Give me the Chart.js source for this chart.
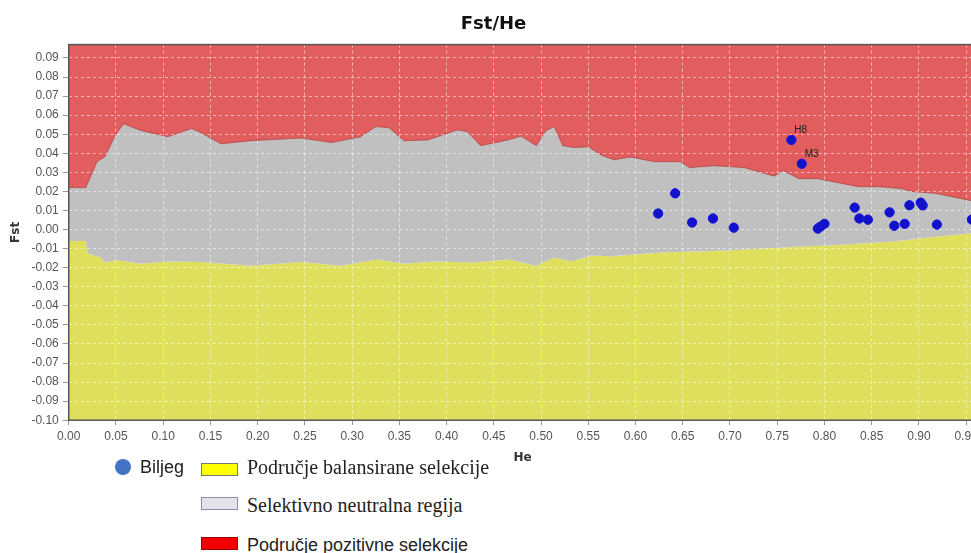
<!DOCTYPE html>
<html>
<head>
<meta charset="utf-8">
<title>Fst/He</title>
<script src="https://cdn.jsdelivr.net/npm/chart.js@4"></script>
<style>
    html, body { margin: 0; padding: 0; background: #fff; width: 971px; height: 553px; overflow: hidden; }
    .chartBox { position: absolute; left: 0; top: 0; width: 982px; height: 468px; }
    .legend div { position: absolute; white-space: nowrap; }
    .dot { width: 16px; height: 16px; border-radius: 50%; background: #4472c4; }
    .box { width: 35px; height: 11px; }
    .sans { font-family: "Liberation Sans", Arial, sans-serif; font-size: 18px; line-height: 22px; color: #222; }
    .serif { font-family: "Liberation Serif", "Times New Roman", serif; font-size: 20px; line-height: 24px; color: #222; }
</style>
</head>
<body>
<div class="chartBox"><canvas id="fstChart"></canvas></div>

<div class="legend">
    <div class="dot" style="left:115px; top:459px;"></div>
    <div class="sans" style="left:140px; top:456px;">Biljeg</div>
    <div class="box" style="left:201px; top:463px; background:#ffff00; border:1px solid #777;"></div>
    <div class="serif" style="left:247px; top:455px;">Područje balansirane selekcije</div>
    <div class="box" style="left:201px; top:497px; background:#e3e4ea; border:1px solid #8a90a8;"></div>
    <div class="serif" style="left:247px; top:493px;">Selektivno neutralna regija</div>
    <div class="box" style="left:201px; top:537px; background:#f20000; border:1px solid #900;"></div>
    <div class="sans" style="left:247px; top:534px;">Područje pozitivne selekcije</div>
</div>

<script>
// upper limit of the neutral region (gray / red border)
const upperHe = [0, 0.018, 0.030, 0.038, 0.050, 0.058, 0.076, 0.105, 0.130, 0.140,
    0.161, 0.193, 0.246, 0.278, 0.309, 0.325, 0.339, 0.355, 0.380, 0.412,
    0.422, 0.436, 0.465, 0.479, 0.495, 0.505, 0.514, 0.523, 0.535, 0.550,
    0.564, 0.577, 0.595, 0.620, 0.648, 0.657, 0.683, 0.715, 0.747, 0.756,
    0.773, 0.793, 0.810, 0.836, 0.857, 0.881, 0.892, 0.917, 0.957, 0.975];
const upperFst = [0.022, 0.022, 0.0356, 0.038, 0.050, 0.0555, 0.052, 0.0487, 0.053, 0.0508,
    0.045, 0.0466, 0.048, 0.0456, 0.0487, 0.054, 0.0534, 0.0466, 0.047, 0.0523,
    0.0513, 0.044, 0.047, 0.049, 0.044, 0.0518, 0.054, 0.044, 0.043, 0.0434,
    0.039, 0.0366, 0.038, 0.0356, 0.0356, 0.0325, 0.0335, 0.0325, 0.028, 0.031,
    0.0267, 0.0267, 0.025, 0.0225, 0.0225, 0.0215, 0.020, 0.019, 0.015, 0.014];

// lower limit of the neutral region (yellow / gray border)
const lowerHe = [0, 0.018, 0.020, 0.029, 0.031, 0.039, 0.050, 0.076, 0.105, 0.140,
    0.193, 0.246, 0.288, 0.327, 0.355, 0.387, 0.429, 0.465, 0.495, 0.514,
    0.532, 0.553, 0.574, 0.627, 0.698, 0.775, 0.804, 0.874, 0.910, 0.957, 0.975];
const lowerFst = [-0.006, -0.006, -0.0126, -0.014, -0.0136, -0.0173, -0.016, -0.018, -0.0168, -0.017,
    -0.019, -0.017, -0.019, -0.0157, -0.018, -0.0168, -0.0173, -0.0157, -0.019, -0.0147,
    -0.0168, -0.0136, -0.014, -0.012, -0.011, -0.0089, -0.0084, -0.0063, -0.0042, -0.002, -0.0015];

// markers (Biljeg)
const markerHe = [0.624, 0.642, 0.660, 0.682, 0.704, 0.765, 0.776, 0.793, 0.796, 0.800,
    0.832, 0.837, 0.846, 0.869, 0.874, 0.885, 0.890, 0.902, 0.904, 0.919, 0.956];
const markerFst = [0.0084, 0.019, 0.0037, 0.0058, 0.001, 0.047, 0.0345, 0.0005, 0.0016, 0.003,
    0.0115, 0.0058, 0.0052, 0.009, 0.002, 0.003, 0.0127, 0.0141, 0.0126, 0.0026, 0.0052];
const markerNames = ["", "", "", "", "", "H8", "M3", "", "", "",
    "", "", "", "", "", "", "", "", "", "", ""];

const xStep = 0.05;
const yStep = 0.01;

const toPoints = (xs, ys) => xs.map((x, i) => ({ x: x, y: ys[i] }));
const upper = toPoints(upperHe, upperFst);
const lower = toPoints(lowerHe, lowerFst);
const markers = toPoints(markerHe, markerFst);

// only keep round ticks
function keepSteps(step) {
    return function (scale) {
        scale.ticks = scale.ticks.filter((t) => Math.abs(t.value / step - Math.round(t.value / step)) < 1e-6);
    };
}

// markers go back on top of the grid, then their names
const markerPlugin = {
    id: "markerTop",
    afterDraw(chart) {
        const meta = chart.getDatasetMeta(0);
        meta.controller.draw();
        const c = chart.ctx;
        c.save();
        c.font = "10px 'Liberation Sans', Arial, sans-serif";
        c.fillStyle = "#222";
        c.textBaseline = "middle";
        meta.data.forEach((pt, i) => {
            if (markerNames[i]) c.fillText(markerNames[i], pt.x + 3, pt.y - 10);
        });
        c.restore();
    }
};

const framePlugin = {
    id: "frame",
    afterDraw(chart) {
        const a = chart.chartArea;
        const c = chart.ctx;
        c.save();
        c.strokeStyle = "#555";
        c.lineWidth = 1.5;
        c.strokeRect(a.left, a.top, a.right - a.left, a.bottom - a.top);
        c.restore();
    }
};

const tickFont = { family: "'Liberation Sans', Arial, sans-serif", size: 12 };
const axisTitleFont = { family: "'DejaVu Sans', sans-serif", size: 12, weight: "bold" };

new Chart(document.getElementById("fstChart").getContext("2d"), {
    type: "scatter",
    data: {
        datasets: [
            {
                label: "Biljeg",
                data: markers,
                backgroundColor: "#1212c8",
                borderColor: "#1a1ad8",
                borderWidth: 1,
                pointRadius: 4.5,
                pointHoverRadius: 4.5
            },
            {
                type: "line",
                label: "Područje pozitivne selekcije",
                data: upper,
                pointRadius: 0,
                borderColor: "rgba(165,55,55,0.7)",
                borderWidth: 1,
                backgroundColor: "#e25e5e",
                fill: "end",
                tension: 0
            },
            {
                type: "line",
                label: "Selektivno neutralna regija",
                data: upper,
                pointRadius: 0,
                borderWidth: 0,
                backgroundColor: "#c0c0c0",
                fill: "+1",
                tension: 0
            },
            {
                type: "line",
                label: "Područje balansirane selekcije",
                data: lower,
                pointRadius: 0,
                borderWidth: 0,
                backgroundColor: "#dfdf5e",
                fill: "start",
                tension: 0
            }
        ]
    },
    options: {
        responsive: true,
        maintainAspectRatio: false,
        animation: false,
        layout: { padding: { left: 5, right: 0, top: 0, bottom: 0 } },
        scales: {
            x: {
                type: "linear",
                min: 0,
                max: 0.961,
                afterBuildTicks: keepSteps(xStep),
                ticks: {
                    stepSize: xStep,
                    includeBounds: false,
                    autoSkip: false,
                    maxRotation: 0,
                    padding: 4,
                    color: "#555",
                    font: tickFont,
                    callback: (v) => v.toFixed(2)
                },
                grid: { color: "rgba(255,255,255,0.55)", tickColor: "#999", tickLength: 5, z: 1 },
                border: { display: false, dash: [3, 3] },
                title: { display: true, text: "He", color: "#333", font: axisTitleFont, padding: { top: 3, bottom: 3 } }
            },
            y: {
                min: -0.10,
                max: 0.097,
                afterBuildTicks: keepSteps(yStep),
                ticks: {
                    stepSize: yStep,
                    includeBounds: false,
                    autoSkip: false,
                    padding: 4,
                    color: "#555",
                    font: tickFont,
                    callback: (v) => v.toFixed(2)
                },
                grid: { color: "rgba(255,255,255,0.55)", tickColor: "#999", tickLength: 6, z: 1 },
                border: { display: false, dash: [3, 3] },
                title: { display: true, text: "Fst", color: "#333", font: axisTitleFont, padding: { top: 4, bottom: 4 } }
            }
        },
        plugins: {
            legend: { display: false },
            tooltip: { enabled: false },
            title: {
                display: true,
                text: "Fst/He",
                color: "#111",
                font: { family: "'DejaVu Sans', sans-serif", size: 18, weight: "bold" },
                padding: { top: 14, bottom: 9 }
            }
        }
    },
    plugins: [framePlugin, markerPlugin]
});
</script>
</body>
</html>
